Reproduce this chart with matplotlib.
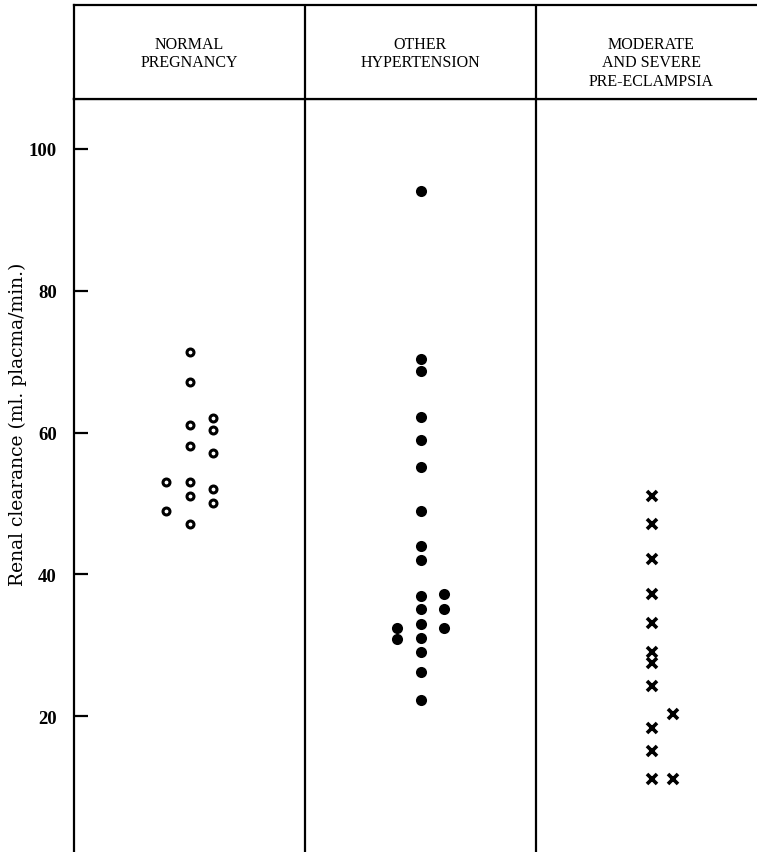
import matplotlib
matplotlib.use("Agg")
import matplotlib.pyplot as plt

# ---- data ----
categories = ["NORMAL\nPREGNANCY", "OTHER\nHYPERTENSION", "MODERATE\nAND SEVERE\nPRE-ECLAMPSIA"]

normal_center = [71.3, 67.2, 61.1, 58.1, 53.0, 51.0, 47.1]
normal_right = [62.1, 60.3, 57.1, 52.1, 50.1]
normal_left = [53.1, 49.0]

hyper_center = [94.1, 70.4, 68.7, 62.2, 58.9, 55.1, 49.0, 44.0, 42.1, 36.9,
                35.1, 33.0, 31.1, 29.0, 26.3, 22.3]
hyper_right = [37.2, 35.1, 32.4]
hyper_left = [32.5, 30.9]

pre_center = [51.0, 47.1, 42.2, 37.2, 33.2, 29.1, 27.5, 24.3, 18.4, 15.1, 11.2]
pre_right = [20.3, 11.2]

yticks = [20, 40, 60, 80, 100]
ylabel = "Renal clearance (ml. placma/min.)"

# ---- layout ----
W, H = 757, 853
fig = plt.figure(figsize=(W / 100, H / 100), dpi=100)

ax_left_px, ax_right_px = 74, 767
top_px, header_bot_px, bot_px = 6, 100, 853

def fx(px):
    return px / W

def fy(py):
    return 1 - py / H

ax = fig.add_axes([fx(ax_left_px), fy(bot_px), fx(ax_right_px - ax_left_px),
                   (bot_px - header_bot_px) / H])
hx = fig.add_axes([fx(ax_left_px), fy(header_bot_px), fx(ax_right_px - ax_left_px),
                   (header_bot_px - top_px) / H])

ax.set_xlim(0, 3)
ax.set_ylim(0.85, 107.05)
lw = 1.6
for s in ["top", "left"]:
    ax.spines[s].set_linewidth(lw)
for s in ["bottom", "right"]:
    ax.spines[s].set_visible(False)
for xd in [1, 2]:
    ax.axvline(xd, color="black", lw=lw)

ax.set_xticks([])
ax.set_yticks(yticks)
ax.set_yticklabels([str(t) for t in yticks], fontfamily="Liberation Serif",
                   fontweight="bold", fontsize=13.5)
ax.tick_params(axis="y", direction="in", length=10, width=1.6, pad=12.5)

off = 0.1
def pts(vals, cat, o):
    return [cat + 0.5 + o] * len(vals), vals

ring = dict(marker="o", ls="none", ms=5, mfc="white", mec="black", mew=2.2)
dot = dict(marker="o", ls="none", ms=8, mfc="black", mec="black", mew=0)
cross = dict(marker="x", ls="none", ms=7.5, mec="black", mew=2.6)

for vals, o in [(normal_center, 0), (normal_right, off), (normal_left, -off)]:
    x, y = pts(vals, 0, o)
    ax.plot(x, y, **ring)
for vals, o in [(hyper_center, 0), (hyper_right, off), (hyper_left, -off)]:
    x, y = pts(vals, 1, o)
    ax.plot(x, y, **dot)
for vals, o in [(pre_center, 0), (pre_right, 0.095)]:
    x, y = pts(vals, 2, o)
    ax.plot(x, y, **cross)

# header
hx.set_xlim(0, 3)
hx.set_ylim(0, 1)
hx.set_xticks([])
hx.set_yticks([])
for s in ["top", "left", "bottom"]:
    hx.spines[s].set_linewidth(lw)
hx.spines["right"].set_visible(False)
for xd in [1, 2]:
    hx.axvline(xd, color="black", lw=lw)
for i, c in enumerate(categories):
    hx.text(i + 0.5, 1 - 31 / 94, c, ha="center", va="top",
            fontfamily="Liberation Serif", fontsize=11.5, linespacing=1.2)

fig.text(fx(18), fy(424), ylabel, rotation=90, ha="center", va="center",
         fontfamily="DejaVu Serif", fontsize=13.5)

fig.savefig("out.png", dpi=100)
